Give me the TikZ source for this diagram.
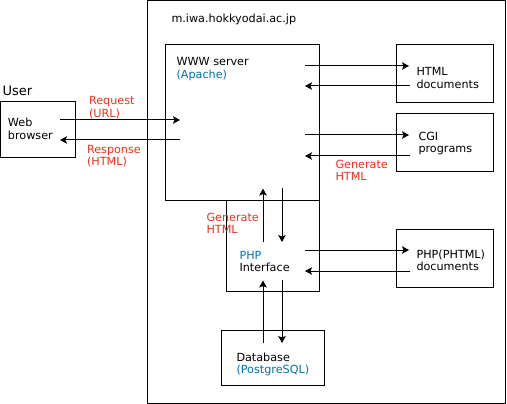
\documentclass[tikz,border=0pt]{standalone}
\usepackage{fontspec}
\setmainfont{DejaVu Sans}
\usetikzlibrary{arrows.meta}
\definecolor{lblred}{RGB}{230,52,30}
\definecolor{lblblue}{RGB}{0,115,170}
\newcommand{\mlines}[1]{\begin{tabular}[t]{@{}l@{}}#1\end{tabular}}
\tikzset{
  box/.style={draw, line width=1pt, inner sep=0pt, outer sep=0pt},
  txt/.style={anchor=base west, inner sep=0pt, outer sep=0pt, font=\fontsize{11.2}{12}\selectfont},
  conn/.style={line width=1pt, -{Stealth[length=7pt,width=7.5pt,inset=1.5pt]}}
}
\begin{document}
\begin{tikzpicture}[x=1pt,y=-1pt]
\useasboundingbox (0,0) rectangle (507,404);
% boxes
\node[box, minimum width=358pt, minimum height=402pt] (host) at (326,202) {};
\node[box, minimum width=75pt, minimum height=56pt] (browser) at (38,130) {};
\node[box, minimum width=154pt, minimum height=156pt] (www) at (242,123) {};
\node[box, minimum width=93pt, minimum height=90pt] (phpi) at (272.5,246) {};
\node[box, minimum width=97pt, minimum height=58pt] (html) at (444.5,74) {};
\node[box, minimum width=97pt, minimum height=58pt] (cgi) at (444.5,143) {};
\node[box, minimum width=97pt, minimum height=58pt] (phpdoc) at (444.5,258) {};
\node[box, minimum width=103pt, minimum height=55pt] (db) at (272.5,357.5) {};
% texts
\node[txt, font=\fontsize{13}{14}\selectfont] (user) at (2.5,96) {User};
\node[txt] (browsertxt) at (8,127) {\mlines{Web\\browser}};
\node[txt] (hosttxt) at (171.5,23) {m.iwa.hokkyodai.ac.jp};
\node[txt] (wwwtxt) at (176.5,66) {\mlines{WWW server\\\textcolor{lblblue}{(Apache)}}};
\node[txt] (htmltxt) at (416.5,76) {\mlines{HTML\\documents}};
\node[txt] (cgitxt) at (418.5,141) {\mlines{CGI\\programs}};
\node[txt] (phpdoctxt) at (416.5,258.5) {\mlines{PHP(PHTML)\\documents}};
\node[txt] (phpitxt) at (239.5,259) {\mlines{\textcolor{lblblue}{PHP}\\Interface}};
\node[txt] (dbtxt) at (236.5,361.5) {\mlines{Database\\\textcolor{lblblue}{(PostgreSQL)}}};
\node[txt, text=lblred] (reqtxt) at (89,105) {\mlines{Request\\(URL)}};
\node[txt, text=lblred] (restxt) at (87,153.5) {\mlines{Response\\(HTML)}};
\node[txt, text=lblred] (gen1) at (335.5,168.5) {\mlines{Generate\\HTML}};
\node[txt, text=lblred] (gen2) at (206.5,221.5) {\mlines{Generate\\HTML}};
% connector end points
\coordinate (bR) at (60,120);   \coordinate (wR) at (180,120);
\coordinate (bS) at (60,140);   \coordinate (wS) at (180,140);
\coordinate (w1) at (305,66);   \coordinate (h1) at (409,66);
\coordinate (w2) at (305,86);   \coordinate (h2) at (410,86);
\coordinate (w3) at (305,135);  \coordinate (c1) at (409,135);
\coordinate (w4) at (305,156);  \coordinate (c2) at (410,156);
\coordinate (p1) at (305,250);  \coordinate (d1) at (409,250);
\coordinate (p2) at (305,271);  \coordinate (d2) at (410,271);
\coordinate (wu) at (263,188.5); \coordinate (pu) at (263,242);
\coordinate (wd) at (282,188.5); \coordinate (pd) at (282,242);
\coordinate (pu2) at (263,280.5); \coordinate (du) at (263,343);
\coordinate (pd2) at (282,280);  \coordinate (dd) at (282,343);
% connectors
\draw[conn] (bR) -- (wR);
\draw[conn] (wS) -- (bS);
\draw[conn] (w1) -- (h1);
\draw[conn] (h2) -- (w2);
\draw[conn] (w3) -- (c1);
\draw[conn] (c2) -- (w4);
\draw[conn] (p1) -- (d1);
\draw[conn] (d2) -- (p2);
\draw[conn] (pu) -- (wu);
\draw[conn] (wd) -- (pd);
\draw[conn] (du) -- (pu2);
\draw[conn] (pd2) -- (dd);
\end{tikzpicture}
\end{document}
